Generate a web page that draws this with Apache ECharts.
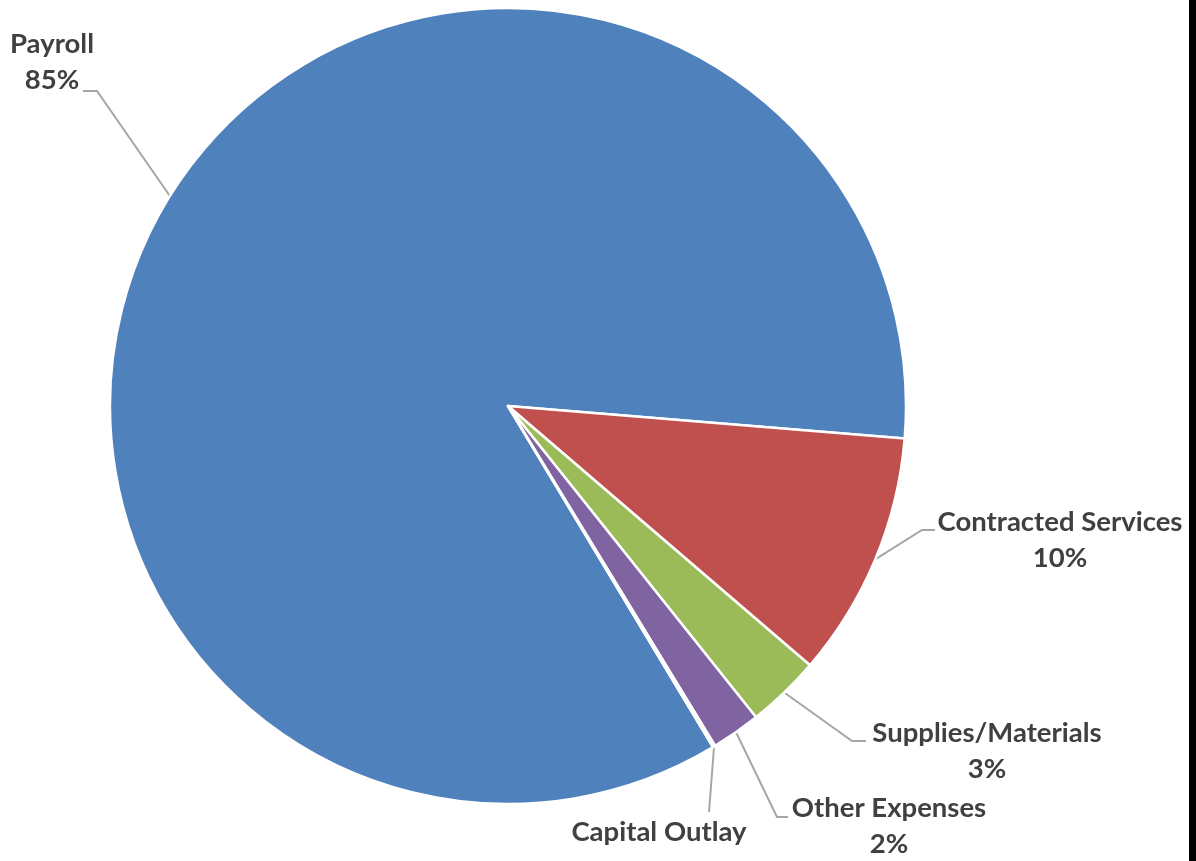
<!DOCTYPE html>
<html>
<head>
<meta charset="utf-8">
<script src="https://cdn.jsdelivr.net/npm/echarts@6/dist/echarts.min.js"></script>
<style>
  html, body { margin: 0; padding: 0; background: #000; }
  #chart { width: 1189px; height: 861px; background: #fff; }
</style>
</head>
<body>
<div id="chart"></div>
<script>
// Expense categories and their share of the budget (percent)
const categories = ['Payroll', 'Contracted Services', 'Supplies/Materials', 'Other Expenses', 'Capital Outlay'];
const shares = [85, 10, 3, 2, 0.1];
const sliceColors = ['#4F81BD', '#C0504D', '#9BBB59', '#8064A2', '#4BACC6'];
// Categories whose label shows only the name
const nameOnly = ['Capital Outlay'];

// Label placement: centre of each label block, and the elbow / end of its leader line
const labelSpots = [
  { cx: 52,   cy: 62,  bend: [97, 91],   end: [83, 91] },
  { cx: 1060, cy: 540, bend: [922, 530], end: [935, 530] },
  { cx: 987,  cy: 751, bend: [852, 741], end: [866, 741] },
  { cx: 889,  cy: 826, bend: [777, 817], end: [788, 817] },
  { cx: 659,  cy: 832, bend: [709, 812], end: [709, 812] }
];

const chart = echarts.init(document.getElementById('chart'), null, { renderer: 'canvas' });

const option = {
  animation: false,
  backgroundColor: '#ffffff',
  series: [{
    type: 'pie',
    center: [508, 406],
    radius: 398,
    startAngle: 301.0,
    clockwise: true,
    avoidLabelOverlap: false,
    itemStyle: { borderColor: '#ffffff', borderWidth: 2.5 },
    emphasis: { disabled: true },
    label: {
      show: true,
      position: 'outside',
      color: '#404040',
      fontFamily: 'Lato, "Liberation Sans", sans-serif',
      fontWeight: 'bold',
      fontSize: 27.5,
      lineHeight: 36,
      align: 'center',
      formatter: p => nameOnly.includes(p.name) ? p.name : p.name + '\n' + p.value + '%'
    },
    labelLine: {
      show: true,
      length: 20,
      length2: 20,
      lineStyle: { color: '#A6A6A6', width: 2 }
    },
    labelLayout: function (params) {
      const i = params.dataIndex;
      const spot = labelSpots[i];
      const layout = chart.getModel().getSeriesByIndex(0).getData().getItemLayout(i);
      const mid = (layout.startAngle + layout.endAngle) / 2;
      const start = [layout.cx + layout.r * Math.cos(mid), layout.cy + layout.r * Math.sin(mid)];
      return {
        x: spot.cx,
        y: spot.cy,
        align: 'center',
        verticalAlign: 'middle',
        labelLinePoints: [start, spot.bend, spot.end]
      };
    },
    data: categories.map((name, i) => ({
      name: name,
      value: shares[i],
      itemStyle: { color: sliceColors[i] }
    }))
  }]
};

chart.setOption(option);
</script>
</body>
</html>
